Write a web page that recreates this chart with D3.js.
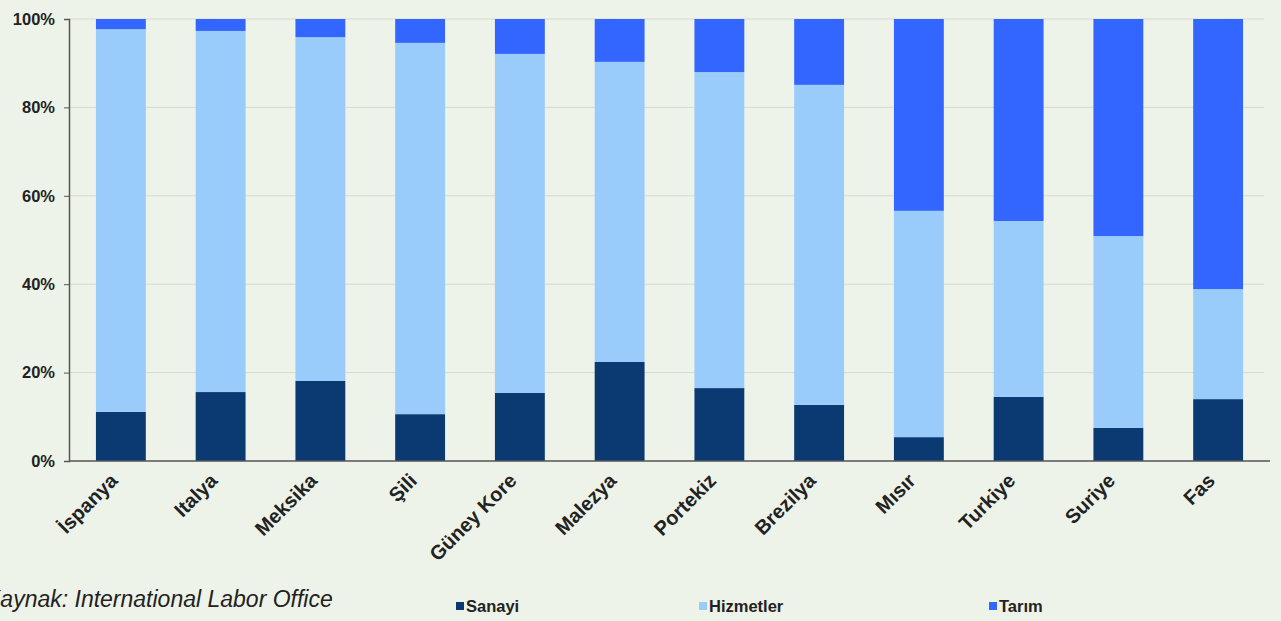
<!DOCTYPE html>
<html>
<head>
<meta charset="utf-8">
<script src="https://cdn.jsdelivr.net/npm/d3@7"></script>
<style>
  body { margin: 0; background: #eef3e9; }
  svg { display: block; }
</style>
</head>
<body>
<div id="chart"></div>
<script>
// countries on the x axis
var countries = ["İspanya", "Italya", "Meksika", "Şili", "Güney Kore", "Malezya",
                 "Portekiz", "Brezilya", "Mısır", "Turkiye", "Suriye", "Fas"];
// shares in percent
var sanayi    = [11.1, 15.6, 18.1, 10.6, 15.4, 22.4, 16.5, 12.7, 5.4, 14.5, 7.5, 14.0];
var hizmetler = [86.6, 81.7, 77.8, 84.0, 76.7, 67.9, 71.5, 72.4, 51.2, 39.8, 43.4, 24.9];
var tarim     = [2.3, 2.7, 4.1, 5.4, 7.9, 9.7, 12.0, 14.9, 43.4, 45.7, 49.1, 61.1];
var seriesNames = ["Sanayi", "Hizmetler", "Tarım"];
var yTicks = [0, 20, 40, 60, 80, 100];

var W = 1281, H = 621;
var margin = { left: 69, right: 11, top: 19, bottom: 160 };
var colors = ["#0b3a73", "#99cbfb", "#3366ff"];
var font = "'Liberation Sans', Arial, sans-serif";

var rows = countries.map(function(c, i) {
    return { country: c, Sanayi: sanayi[i], "Hizmetler": hizmetler[i], "Tarım": tarim[i] };
});

var svg = d3.select("#chart").append("svg")
    .attr("width", W).attr("height", H)
    .style("background", "#eef3e9");

var x = d3.scaleBand().domain(countries)
    .range([margin.left + 2, W - margin.right - 2])
    .paddingInner(0.5).paddingOuter(0.25);
var y = d3.scaleLinear().domain([0, 100]).range([H - margin.bottom, margin.top]);

// grid lines
svg.append("g").selectAll("line")
    .data(yTicks.slice(1))
    .enter().append("line")
    .attr("x1", margin.left).attr("x2", W - margin.right - 6)
    .attr("y1", function(d) { return y(d); })
    .attr("y2", function(d) { return y(d); })
    .attr("stroke", "#d6d9cf").attr("stroke-width", 1);

var stack = d3.stack().keys(seriesNames)(rows);

svg.append("g").selectAll("g")
    .data(stack)
    .enter().append("g")
    .attr("fill", function(d, i) { return colors[i]; })
    .selectAll("rect")
    .data(function(d) { return d; })
    .enter().append("rect")
    .attr("x", function(d) { return x(d.data.country); })
    .attr("width", x.bandwidth())
    .attr("y", function(d) { return y(d[1]); })
    .attr("height", function(d) { return y(d[0]) - y(d[1]); });

// y axis
var yAxis = svg.append("g")
    .attr("transform", "translate(" + margin.left + ",0)")
    .call(d3.axisLeft(y).tickValues(yTicks).tickSize(5).tickPadding(9)
          .tickFormat(function(d) { return d + "%"; }));
yAxis.select(".domain").attr("stroke", "#555").attr("stroke-width", 1.5);
yAxis.selectAll(".tick line").attr("stroke", "#555");
yAxis.selectAll("text")
    .style("font-family", font)
    .style("font-size", "16.5px").style("font-weight", "bold").attr("fill", "#222");

// x axis
var xAxis = svg.append("g")
    .attr("transform", "translate(0," + y(0) + ")")
    .call(d3.axisBottom(x).tickSize(0).tickPadding(0));
xAxis.select(".domain").attr("d", "M" + margin.left + ",0H" + (W - margin.right))
    .attr("stroke", "#555").attr("stroke-width", 1.5);
xAxis.selectAll("text")
    .style("font-family", font)
    .style("font-size", "20px").style("font-weight", "bold").attr("fill", "#222")
    .attr("text-anchor", "end")
    .attr("y", 0).attr("dy", 0)
    .attr("transform", "translate(-2,21) rotate(-45)");

// source note
svg.append("text")
    .attr("x", -15).attr("y", 607)
    .style("font-family", font)
    .style("font-size", "23px").style("font-style", "italic")
    .attr("fill", "#222")
    .text("Kaynak: International Labor Office");

// legend
var legendX = [456, 699, 989];
var legend = svg.append("g").selectAll("g")
    .data(seriesNames)
    .enter().append("g")
    .attr("transform", function(d, i) { return "translate(" + legendX[i] + ",606)"; });
legend.append("rect")
    .attr("x", 0).attr("y", -4).attr("width", 8).attr("height", 8)
    .attr("fill", function(d, i) { return colors[i]; });
legend.append("text")
    .attr("x", 10).attr("y", 6)
    .style("font-family", font)
    .style("font-size", "16.5px").style("font-weight", "bold").attr("fill", "#222")
    .text(function(d) { return d; });
</script>
</body>
</html>
